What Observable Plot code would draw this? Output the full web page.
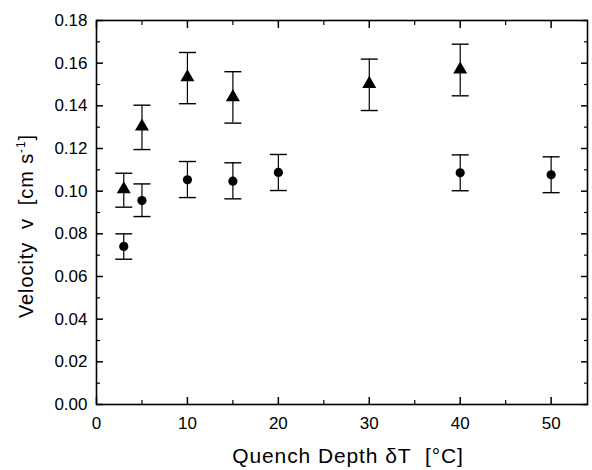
<!DOCTYPE html>
<html>
<head>
<meta charset="utf-8">
<script src="https://cdn.jsdelivr.net/npm/d3@7"></script>
<script src="https://cdn.jsdelivr.net/npm/@observablehq/plot@0.6"></script>
<style>
  html, body { margin: 0; padding: 0; background: #fff; }
  #chart { width: 592px; height: 470px; }
</style>
</head>
<body>
<div id="chart"></div>
<script>
// Triangle series
const triX = [3, 5, 10, 15, 30, 40];
const triV = [0.1009, 0.1303, 0.1534, 0.1441, 0.1503, 0.1570];
const triHi = [0.1084, 0.1403, 0.1650, 0.1560, 0.1619, 0.1689];
const triLo = [0.0925, 0.1195, 0.1410, 0.1319, 0.1378, 0.1447];
// Circle series
const cirX = [3, 5, 10, 15, 20, 40, 50];
const cirV = [0.0741, 0.0956, 0.1053, 0.1047, 0.1088, 0.1086, 0.1077];
const cirHi = [0.0800, 0.1034, 0.1139, 0.1133, 0.1172, 0.1170, 0.1161];
const cirLo = [0.0681, 0.0881, 0.0970, 0.0964, 0.1003, 0.1002, 0.0993];
// Ticks
const xMajor = [0, 10, 20, 30, 40, 50];
const xMinor = [5, 15, 25, 35, 45];
const yMajor = [0, 0.02, 0.04, 0.06, 0.08, 0.10, 0.12, 0.14, 0.16, 0.18];
const yMinor = [0.01, 0.03, 0.05, 0.07, 0.09, 0.11, 0.13, 0.15, 0.17];

const tri = triX.map((x, i) => ({x, v: triV[i], hi: triHi[i], lo: triLo[i]}));
const cir = cirX.map((x, i) => ({x, v: cirV[i], hi: cirHi[i], lo: cirLo[i]}));
const all = tri.concat(cir);

const cap = {
  draw(ctx, size) {
    const w = Math.sqrt(size / Math.PI);
    ctx.moveTo(-w, 0);
    ctx.lineTo(w, 0);
  }
};

const W = 592, H = 470;
const mL = 96, mR = 5, mT = 20, mB = 66;
const FONT = "'Liberation Sans', Arial, sans-serif";

const plot = Plot.plot({
  width: W,
  height: H,
  marginLeft: mL,
  marginRight: mR,
  marginTop: mT,
  marginBottom: mB,
  style: {fontFamily: FONT, fontSize: "17px", color: "#000", background: "#fff"},
  x: {domain: [0, 54], label: null},
  y: {domain: [0, 0.18], label: null},
  marks: [
    Plot.axisX({ticks: xMajor, tickSize: 0, tickPadding: 12, tickFormat: d3.format("d"), fontSize: 17}),
    Plot.axisY({ticks: yMajor, tickSize: 0, tickPadding: 9, tickFormat: d3.format(".2f"), fontSize: 17}),
    Plot.axisX({ticks: xMajor, anchor: "bottom", tickSize: -7, text: null, strokeWidth: 1.5}),
    Plot.axisX({ticks: xMinor, anchor: "bottom", tickSize: -4, text: null, strokeWidth: 1.2}),
    Plot.axisX({ticks: xMajor, anchor: "top", tickSize: -7, text: null, strokeWidth: 1.5}),
    Plot.axisX({ticks: xMinor, anchor: "top", tickSize: -4, text: null, strokeWidth: 1.2}),
    Plot.axisY({ticks: yMajor, anchor: "left", tickSize: -7, text: null, strokeWidth: 1.5}),
    Plot.axisY({ticks: yMinor, anchor: "left", tickSize: -4, text: null, strokeWidth: 1.2}),
    Plot.axisY({ticks: yMajor, anchor: "right", tickSize: -7, text: null, strokeWidth: 1.5}),
    Plot.axisY({ticks: yMinor, anchor: "right", tickSize: -4, text: null, strokeWidth: 1.2}),
    Plot.frame({stroke: "#000", strokeWidth: 1.6}),
    Plot.ruleX(all, {x: "x", y1: "lo", y2: "hi", stroke: "#000", strokeWidth: 1.2}),
    Plot.dot(all, {x: "x", y: "hi", symbol: cap, r: 8.5, stroke: "#000", strokeWidth: 1.4, fill: "none"}),
    Plot.dot(all, {x: "x", y: "lo", symbol: cap, r: 8.5, stroke: "#000", strokeWidth: 1.4, fill: "none"}),
    Plot.dot(cir, {x: "x", y: "v", symbol: "circle", r: 4.6, fill: "#000", stroke: "none"}),
    Plot.dot(tri, {x: "x", y: "v", symbol: "triangle", r: 5.2, fill: "#000", stroke: "none"})
  ]
});

document.getElementById("chart").appendChild(plot);
const svg = d3.select(plot);
svg.selectAll("text").attr("fill", "#000");

// x-axis label
const xl = svg.append("text")
  .attr("x", 348).attr("y", 463)
  .attr("text-anchor", "middle")
  .style("font-family", FONT)
  .style("font-size", "21px")
  .style("letter-spacing", "0.9px")
  .attr("fill", "#000");
xl.append("tspan").text("Quench Depth ");
xl.append("tspan").text("\u03B4T\u00A0\u00A0[\u00B0C]");

// y-axis label
const yl = svg.append("text")
  .attr("transform", "translate(33,226) rotate(-90)")
  .attr("text-anchor", "middle")
  .style("font-family", FONT)
  .style("font-size", "20px")
  .style("letter-spacing", "0.9px")
  .attr("fill", "#000");
yl.append("tspan").text("Velocity\u00A0\u00A0v\u00A0\u00A0[cm s");
yl.append("tspan").attr("dy", -8).style("font-size", "12px").text("-1");
yl.append("tspan").attr("dy", 8).text("]");
</script>
</body>
</html>
